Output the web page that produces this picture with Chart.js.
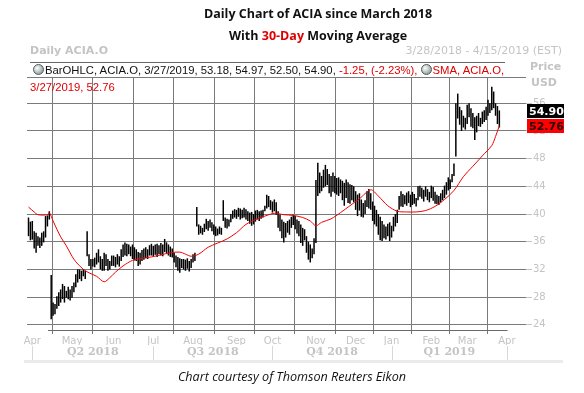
<!DOCTYPE html>
<html>
<head>
<meta charset="utf-8">
<script src="https://cdn.jsdelivr.net/npm/chart.js@4.4.1/dist/chart.umd.min.js"></script>
<style>
  html, body { margin: 0; padding: 0; background: #fff; }
  #wrap { position: relative; width: 584px; height: 393px; overflow: hidden; }
  #c { position: absolute; left: 0; top: 0; }
  .t { position: absolute; white-space: nowrap; }
  .title { font-family: "Open Sans", sans-serif; font-weight: bold; font-size: 12.5px; color: #111; left: 118px; width: 400px; text-align: center; }
  .grey { color: #c4c4c4; font-family: "DejaVu Sans", sans-serif; font-size: 11px; }
  .leg { font-family: "Liberation Sans", sans-serif; font-size: 11.3px; color: #111; }
  .red { color: #e00000; }
  .ico { display: inline-block; width: 9px; height: 9px; border-radius: 50%; border: 1px solid #555;
         background: radial-gradient(circle at 35% 35%, #fff, #9aa 70%); vertical-align: -1px; margin-right: 1px; }
</style>
</head>
<body>
<div id="wrap">
  <canvas id="c" width="584" height="393"></canvas>
  <div class="t title" style="top:5px;line-height:18px">Daily Chart of ACIA since March 2018</div>
  <div class="t title" style="top:27px;line-height:18px">With <span class="red">30-Day</span> Moving Average</div>
  <div class="t grey" style="left:30px;top:44px;line-height:14px;font-weight:bold">Daily ACIA.O</div>
  <div class="t grey" style="right:22px;top:44px;line-height:14px">3/28/2018 - 4/15/2019 (EST)</div>
  <div class="t" style="left:30px;top:62px;width:475px;height:1px;background:#666"></div>
  <div class="t leg" id="leg1" style="left:33px;top:63px;line-height:14px"></div>
  <div class="t leg red" id="leg2" style="left:30px;top:80px;line-height:14px"></div>
  <div class="t grey" style="left:530px;top:60px;line-height:14px;font-weight:bold">Price</div>
  <div class="t grey" style="left:531px;top:76px;line-height:14px;font-weight:bold">USD</div>
  <div class="t" style="left:0;width:584px;text-align:center;top:369px;line-height:16px;font-family:'Open Sans',sans-serif;font-style:italic;font-size:12.6px;color:#111">Chart courtesy of Thomson Reuters Eikon</div>
</div>
<script>
// Barras diarias ACIA.O (indice = dia de negociacion, 0 = 3/28/2018)
const highs = [
  39.5, 38.9, 39.0, 37.5, 37.3, 36.8, 36.6, 37.3, 37.5, 39.7,
  39.8, 40.4, 31.2, 27.2, 27.0, 28.1, 28.7, 29.1, 29.9, 29.6,
  28.9, 29.5, 29.1, 29.6, 30.1, 31.3, 32.0, 32.0, 31.8, 32.0,
  31.8, 37.5, 34.2, 33.5, 33.5, 33.7, 34.4, 34.9, 33.9, 33.5,
  34.4, 34.2, 33.5, 33.2, 34.0, 34.0, 33.8, 34.2, 33.9, 34.9,
  35.6, 35.9, 35.7, 35.6, 35.3, 35.6, 35.2, 34.9, 34.5, 34.4,
  34.8, 35.0, 35.2, 34.9, 35.5, 35.7, 35.4, 35.6, 35.7, 35.5,
  35.8, 35.6, 36.4, 35.9, 35.6, 35.3, 35.0, 34.4, 34.0, 33.8,
  33.6, 33.5, 33.5, 33.4, 33.6, 33.2, 33.5, 34.2, 34.4, 41.0,
  38.5, 38.3, 38.0, 38.6, 39.3, 39.0, 39.2, 38.8, 38.5, 38.2,
  37.9, 38.2, 38.0, 42.0, 39.5, 39.3, 39.2, 40.0, 40.5, 40.7,
  40.6, 40.9, 40.8, 40.6, 40.9, 40.7, 40.4, 40.2, 40.3, 40.0,
  40.5, 40.6, 40.4, 40.5, 40.6, 41.2, 42.8, 42.6, 42.0, 41.8,
  42.1, 41.7, 40.4, 39.9, 39.2, 38.9, 38.7, 39.0, 39.2, 39.6,
  39.9, 39.7, 39.2, 39.0, 38.5, 38.0, 37.8, 36.8, 36.0, 35.6,
  35.0, 36.5, 44.9, 47.4, 46.0, 45.5, 46.4, 47.1, 46.5, 45.8,
  45.5, 46.0, 45.5, 45.2, 45.3, 45.0, 44.8, 44.5, 45.0, 44.6,
  44.3, 44.2, 44.0, 43.3, 42.8, 43.0, 42.1, 41.6, 42.0, 43.3,
  43.6, 43.0, 41.8, 41.2, 40.6, 40.0, 39.6, 39.0, 38.5, 38.2,
  38.6, 38.8, 38.3, 39.6, 40.0, 40.6, 42.6, 43.3, 42.9, 42.7,
  43.1, 43.3, 42.8, 43.2, 42.9, 42.3, 44.0, 44.1, 43.8, 43.5,
  44.0, 43.6, 43.2, 44.1, 43.9, 43.2, 42.8, 42.6, 43.0, 43.5,
  44.1, 44.6, 45.3, 45.0, 45.8, 47.3, 56.0, 57.4, 55.5, 55.0,
  54.2, 53.9, 55.8, 56.0, 55.3, 54.6, 54.0, 54.2, 54.6, 53.9,
  54.8, 55.0, 55.5, 56.5, 56.0, 58.4, 57.7, 56.0, 55.6, 54.97
];
const lows = [
  36.8, 36.2, 36.3, 35.0, 34.4, 35.4, 35.1, 35.4, 35.9, 36.6,
  38.2, 39.2, 24.8, 25.3, 25.5, 26.3, 26.7, 27.2, 27.7, 27.2,
  27.9, 27.7, 27.5, 27.9, 28.7, 29.4, 30.1, 30.6, 30.3, 31.0,
  30.6, 33.9, 32.5, 32.0, 32.4, 32.3, 32.7, 33.0, 32.0, 31.8,
  31.8, 32.5, 31.8, 32.0, 32.5, 32.5, 32.3, 32.7, 32.4, 33.2,
  33.8, 34.0, 33.9, 34.2, 33.9, 33.5, 33.3, 33.2, 32.5, 32.7,
  33.2, 33.4, 33.6, 33.5, 34.0, 34.0, 33.9, 34.1, 33.8, 34.2,
  34.0, 33.9, 34.5, 34.3, 34.0, 33.8, 33.7, 33.0, 32.3, 31.8,
  31.5, 32.2, 32.0, 31.8, 32.1, 31.7, 32.2, 33.0, 33.2, 38.2,
  37.0, 37.2, 37.0, 37.4, 37.8, 37.6, 38.0, 37.5, 37.0, 36.8,
  36.9, 37.1, 37.0, 39.0, 38.0, 37.9, 38.2, 38.8, 39.3, 39.5,
  39.3, 39.6, 39.2, 39.4, 39.5, 39.2, 39.0, 38.6, 38.3, 38.5,
  38.9, 39.2, 39.0, 39.3, 39.5, 40.4, 40.8, 41.0, 40.6, 40.2,
  40.4, 39.9, 38.0, 37.5, 36.5, 35.9, 36.6, 37.3, 37.0, 38.0,
  38.4, 37.8, 37.2, 36.8, 35.8, 35.4, 36.2, 34.4, 33.4, 33.0,
  33.6, 34.2, 35.8, 42.6, 43.0, 43.3, 43.8, 44.0, 44.2, 43.0,
  42.5, 43.2, 43.0, 42.8, 42.6, 43.0, 42.0, 41.2, 42.3, 41.6,
  41.5, 42.0, 41.7, 40.6, 39.7, 40.5, 39.6, 39.5, 40.0, 41.0,
  40.8, 40.6, 39.0, 38.5, 38.2, 37.0, 36.2, 36.1, 36.5, 36.3,
  36.8, 36.1, 36.6, 37.5, 38.2, 38.7, 40.6, 41.1, 41.0, 41.4,
  41.2, 41.6, 41.0, 41.3, 41.5, 41.1, 42.0, 42.5, 42.2, 41.8,
  42.5, 42.0, 41.7, 42.3, 41.9, 41.5, 41.4, 41.3, 41.7, 42.0,
  42.3, 42.8, 43.4, 43.6, 44.6, 45.5, 48.3, 53.8, 52.9, 52.0,
  52.5, 52.2, 53.0, 54.0, 52.6, 52.4, 50.7, 51.8, 52.7, 52.6,
  53.0, 53.3, 53.6, 54.2, 54.6, 55.0, 55.3, 54.2, 53.0, 52.50
];

const smaDays = [0, 3, 5, 10, 11, 13, 15, 17, 20, 23, 25, 29, 32, 36, 40, 43, 46, 50, 55, 60,
  65, 70, 75, 80, 83, 86, 90, 95, 100, 105, 110, 115, 120, 125, 130, 135, 140, 145, 149, 152,
  155, 160, 165, 170, 175, 181, 185, 190, 195, 200, 205, 210, 215, 220, 225, 230, 235, 240, 245, 247, 249];
const smaVals = [41.0, 40.3, 39.9, 39.9, 40.2, 39.0, 37.8, 36.7, 35.4, 33.9, 33.1, 32.0, 31.5, 31.0, 30.2, 30.8, 31.6, 32.5, 33.3, 33.6,
  33.8, 34.1, 34.4, 34.5, 34.2, 33.9, 34.2, 35.2, 35.8, 36.4, 37.3, 38.5, 39.2, 39.7, 40.1, 39.9, 39.8, 39.5, 39.0, 38.3,
  38.8, 39.3, 40.2, 41.2, 42.2, 43.5, 42.6, 41.2, 40.4, 40.3, 40.3, 40.5, 41.1, 42.1, 43.4, 45.4, 46.9, 48.4, 49.9, 51.2, 52.76];

// Ultima barra (3/27/2019)
const lastBar = { date: "3/27/2019", open: 53.18, high: 54.97, low: 52.50, close: 54.90, chg: -1.25, pct: -2.23 };
const lastSma = 52.76;

// Eje X: inicio de cada mes (dia de negociacion)
const monthDays = [2, 23, 45, 66, 87, 110, 129, 152, 173, 192, 213, 232, 253];
const monthLabels = ["Apr", "May", "Jun", "Jul", "Aug", "Sep", "Oct", "Nov", "Dec", "Jan", "Feb", "Mar", "Apr"];
const quarterEdges = [2, 66, 129, 192, 253];
const quarterLabels = ["Q2 2018", "Q3 2018", "Q4 2018", "Q1 2019"];
const yTicks = [24, 28, 32, 36, 40, 44, 48, 52, 56];

const xMin = -0.8, xMax = 263.1;
const gridGray = "#7a7a7a";
const lightGray = "#c4c4c4";

// leyenda superior
document.getElementById("leg1").innerHTML =
  '<span class="ico"></span>BarOHLC, ACIA.O, ' + lastBar.date + ", " +
  lastBar.open.toFixed(2) + ", " + lastBar.high.toFixed(2) + ", " + lastBar.low.toFixed(2) + ", " +
  lastBar.close.toFixed(2) + ', <span class="red">' + lastBar.chg.toFixed(2) + ", (" + lastBar.pct.toFixed(2) +
  '%), </span><span class="ico"></span><span class="red">SMA, ACIA.O,</span>';
document.getElementById("leg2").textContent = lastBar.date + ", " + lastSma.toFixed(2);

const bars = highs.map((h, i) => ({ x: i, y: [lows[i], h] }));
const sma = smaDays.map((d, i) => ({ x: d, y: smaVals[i] }));
const quarterMids = quarterLabels.map((_, i) => (quarterEdges[i] + quarterEdges[i + 1]) / 2);

// extras: bordes, separadores de trimestre, etiquetas de precio
const extras = {
  id: "extras",
  beforeDatasetsDraw(chart) {
    const { ctx, chartArea: a } = chart;
    ctx.save();
    ctx.strokeStyle = gridGray;
    ctx.lineWidth = 1;
    ctx.beginPath();
    ctx.moveTo(a.left, a.top + 0.5);
    ctx.lineTo(a.right, a.top + 0.5);
    ctx.stroke();
    ctx.restore();
  },
  afterDraw(chart) {
    const { ctx, chartArea: a, scales } = chart;
    const x = scales.x, y = scales.y, q = scales.q;
    ctx.save();
    // linea base
    ctx.strokeStyle = "#6a6a6a";
    ctx.lineWidth = 1;
    ctx.beginPath();
    ctx.moveTo(a.left + 21, a.bottom + 0.5);
    ctx.lineTo(Math.round(x.getPixelForValue(253)) + 0.5, a.bottom + 0.5);
    ctx.stroke();
    // separadores de trimestre
    ctx.strokeStyle = "#d8d8d8";
    quarterEdges.forEach((d) => {
      const px = Math.round(x.getPixelForValue(d)) + 0.5;
      ctx.beginPath();
      ctx.moveTo(px, q.top + 1);
      ctx.lineTo(px, q.bottom - 2);
      ctx.stroke();
    });
    // banda gris inferior
    ctx.fillStyle = "#ebebeb";
    ctx.fillRect(24, q.bottom - 3, 539, 3);
    // etiquetas de precio
    const boxes = [
      { v: lastBar.close, bg: "#000", fg: "#fff" },
      { v: lastSma, bg: "#ff0000", fg: "#2a0000" },
    ];
    ctx.font = "bold 11px 'DejaVu Sans', sans-serif";
    ctx.textBaseline = "middle";
    boxes.forEach((b) => {
      const py = Math.round(y.getPixelForValue(b.v));
      ctx.fillStyle = b.bg;
      ctx.fillRect(a.right + 1, py - 7, 37, 14);
      ctx.fillStyle = b.fg;
      ctx.fillText(b.v.toFixed(2), a.right + 3, py + 1);
    });
    ctx.restore();
  },
};

new Chart(document.getElementById("c"), {
  type: "bar",
  data: {
    datasets: [
      {
        type: "line",
        label: "SMA",
        data: sma,
        borderColor: "#f00000",
        borderWidth: 1,
        pointRadius: 0,
        tension: 0.3,
        order: 0,
      },
      {
        type: "bar",
        label: "BarOHLC",
        data: bars,
        backgroundColor: "#000",
        barThickness: 1.5,
        inflateAmount: 0,
        order: 1,
      },
    ],
  },
  options: {
    responsive: false,
    animation: false,
    events: [],
    layout: { padding: { left: 27, top: 77, right: 0, bottom: 30 } },
    plugins: { legend: { display: false }, tooltip: { enabled: false } },
    scales: {
      x: {
        type: "linear",
        position: "bottom",
        min: xMin,
        max: xMax,
        offset: false,
        weight: 0,
        border: { display: false },
        grid: { color: gridGray, tickColor: gridGray, tickLength: 4 },
        afterBuildTicks: (s) => { s.ticks = monthDays.map((v) => ({ value: v })); },
        afterFit: (s) => { s.height = 15; },
        ticks: {
          autoSkip: false,
          maxRotation: 0,
          padding: 1,
          color: lightGray,
          font: { family: "DejaVu Sans", size: 10 },
          callback: (v, i) => monthLabels[i],
        },
      },
      q: {
        type: "linear",
        position: "bottom",
        min: xMin,
        max: xMax,
        offset: false,
        weight: 1,
        border: { display: false },
        grid: { display: false, drawTicks: false },
        afterBuildTicks: (s) => { s.ticks = quarterMids.map((v) => ({ value: v })); },
        afterFit: (s) => { s.height = 18; },
        ticks: {
          autoSkip: false,
          maxRotation: 0,
          padding: 1,
          color: lightGray,
          font: { family: "DejaVu Serif", size: 11, weight: "bold" },
          callback: (v, i) => quarterLabels[i],
        },
      },
      y: {
        position: "right",
        min: 23.24,
        max: 59.8,
        border: { display: false },
        grid: { color: gridGray, tickColor: lightGray, tickLength: 6 },
        afterBuildTicks: (s) => { s.ticks = yTicks.map((v) => ({ value: v })); },
        afterFit: (s) => { s.width = 58; },
        ticks: {
          padding: 1,
          color: lightGray,
          font: { family: "DejaVu Sans", size: 10 },
        },
      },
    },
  },
  plugins: [extras],
});
</script>
</body>
</html>
